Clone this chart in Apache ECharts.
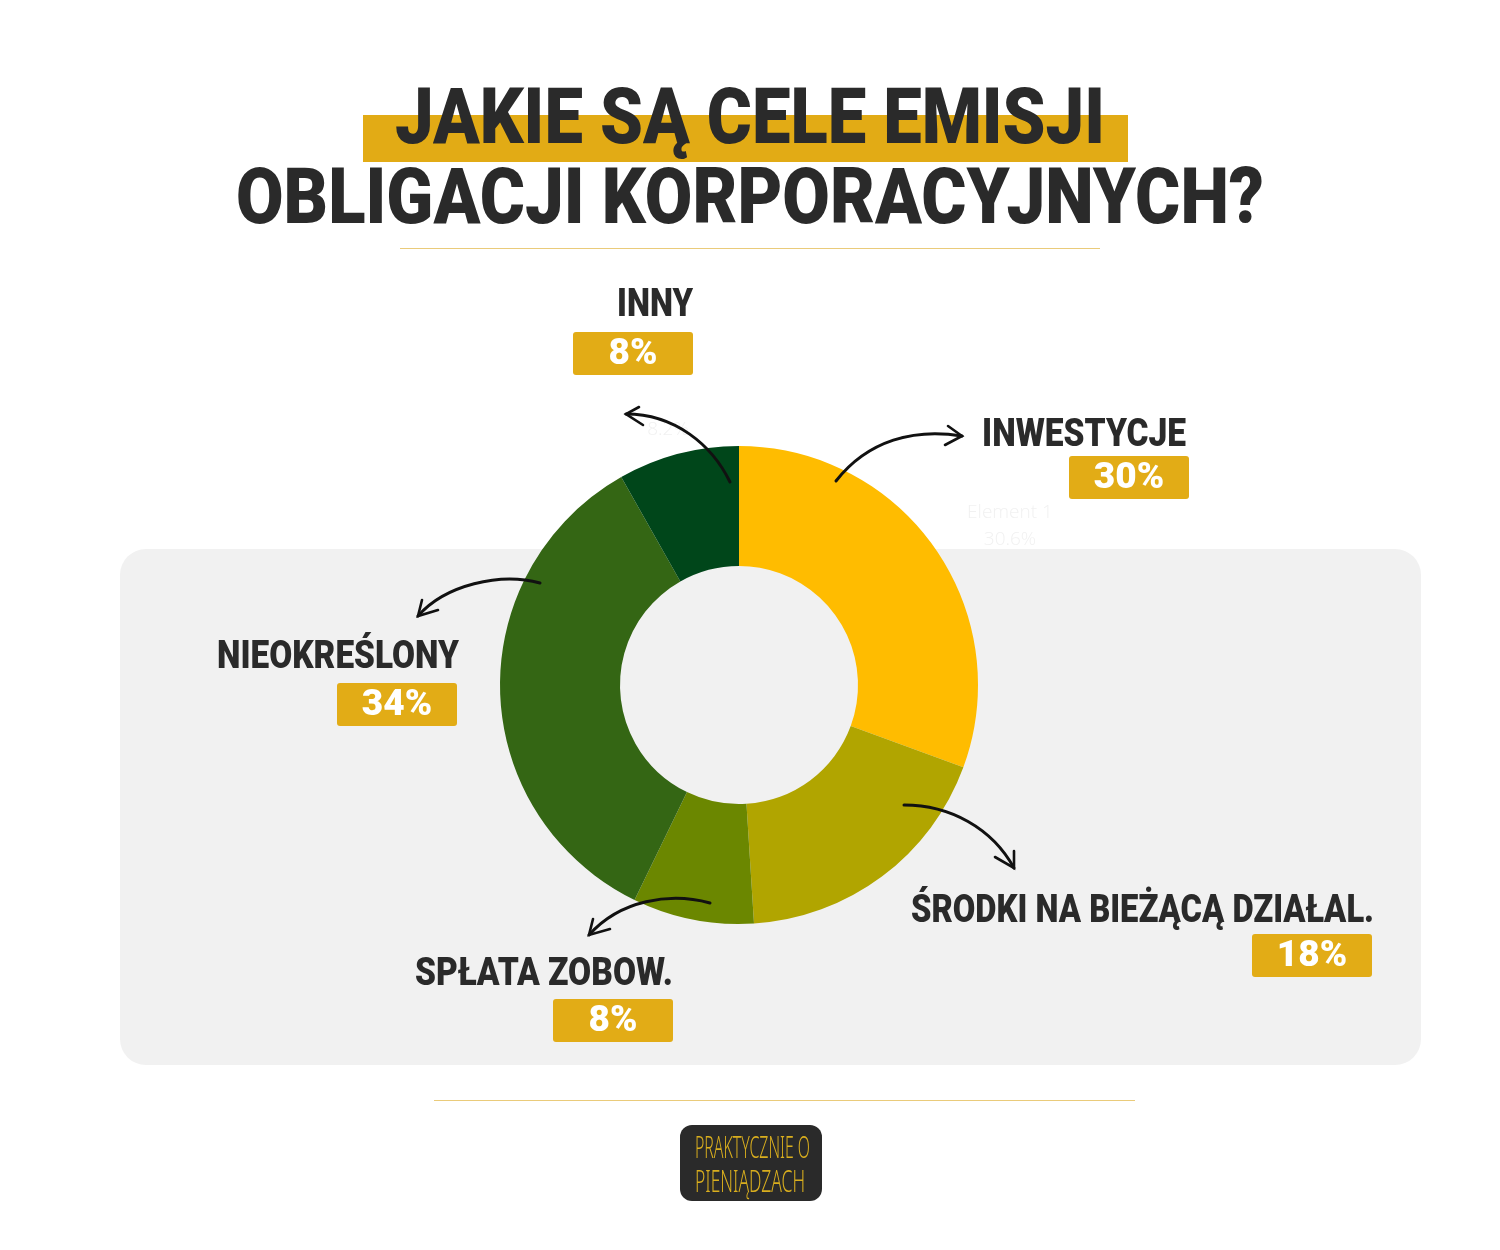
<!DOCTYPE html>
<html>
<head>
<meta charset="utf-8">
<script src="https://cdn.jsdelivr.net/npm/echarts@6/dist/echarts.min.js"></script>
<style>
html,body{margin:0;padding:0;background:#fff;}
#c{width:1500px;height:1250px;}
</style>
</head>
<body>
<div id="c"></div>
<script>
// ---- data ----
const categories = ['INWESTYCJE', 'ŚRODKI NA BIEŻĄCĄ DZIAŁAL.', 'SPŁATA ZOBOW.', 'NIEOKREŚLONY', 'INNY'];
const values = [30.6, 18.4, 8.2, 34.6, 8.2];
const shownPercent = ['30%', '18%', '8%', '34%', '8%'];
const titleLines = ['JAKIE SĄ CELE EMISJI', 'OBLIGACJI KORPORACYJNYCH?'];
const logoLines = ['PRAKTYCZNIE O', 'PIENIĄDZACH'];

// ---- layout / styles ----
const sliceColors = ['#FFBC00', '#B1A500', '#6B8700', '#346614', '#00461A'];
// [nameRightX, nameCenterY, nameWidth, boxX, boxY]
const labelLayout = [
  [1186, 436, 204, 1069, 456],
  [1374, 912, 463, 1252, 934],
  [673, 975, 258, 553, 999],
  [459, 658, 242, 337, 683],
  [693, 306, 76, 573, 332]
];
// arrows: [x1,y1,cpx1,cpy1,cpx2,cpy2,x2,y2, wing1x,wing1y, wing2x,wing2y]
const arrows = [
  [836, 481, 868, 440, 915, 428, 962, 436, 948, 426, 945, 445],
  [904, 805, 950, 805, 992, 828, 1014, 868, 995, 857, 1014, 851],
  [710, 903, 670, 892, 620, 900, 589, 935, 593, 919, 610, 929],
  [540, 583, 500, 572, 445, 585, 418, 616, 422, 600, 438, 610],
  [730, 482, 712, 445, 675, 414, 626, 414, 639, 407, 643, 425]
];

const mctx = document.createElement('canvas').getContext('2d');
function fit(text, font, width) { mctx.font = font; return width / mctx.measureText(text).width; }

const TITLE_FONT = '900 78px "Roboto", "Liberation Sans", sans-serif';
const NAME_FONT = '900 39px "Roboto", "Liberation Sans", sans-serif';
const PCT_FONT = '900 37px "Roboto", "Lato", sans-serif';
const LOGO_FONT = '300 31px "Noto Sans", "DejaVu Sans", sans-serif';

const g = [];
// grey panel
g.push({ type: 'rect', z: 0, shape: { x: 120, y: 549, width: 1301, height: 516, r: 26 }, style: { fill: '#F1F1F1' } });
// title highlight
g.push({ type: 'rect', z: 1, shape: { x: 363, y: 115, width: 765, height: 47 }, style: { fill: '#E2AB15' } });
// title text
const titleW = [710, 1028];
const titleBaseY = [123, 203];
titleLines.forEach((t, i) => {
  g.push({
    type: 'text', z: 5, x: 750, y: titleBaseY[i], scaleX: fit(t, TITLE_FONT, titleW[i]),
    style: { text: t, font: TITLE_FONT, fill: '#2A2A2A', align: 'center', verticalAlign: 'middle',
      shadowColor: 'rgba(0,0,0,0.35)', shadowBlur: 8, shadowOffsetY: 4 }
  });
});
// separator lines
g.push({ type: 'line', z: 1, shape: { x1: 400, y1: 248.5, x2: 1100, y2: 248.5 }, style: { stroke: '#EACB7A', lineWidth: 1.2 } });
g.push({ type: 'line', z: 1, shape: { x1: 434, y1: 1100.5, x2: 1135, y2: 1100.5 }, style: { stroke: '#EACB7A', lineWidth: 1.2 } });
// faint ghost labels
g.push({ type: 'text', z: 1, x: 1010, y: 513, style: { text: 'Element 1', font: '300 19px "Open Sans", sans-serif', fill: '#F1F1F1', align: 'center', verticalAlign: 'middle' } });
g.push({ type: 'text', z: 1, x: 1010, y: 540, style: { text: values[0].toFixed(1) + '%', font: '300 19px "Open Sans", sans-serif', fill: '#F1F1F1', align: 'center', verticalAlign: 'middle' } });
g.push({ type: 'text', z: 1, x: 668, y: 430, style: { text: values[4].toFixed(1) + '%', font: '300 19px "Open Sans", sans-serif', fill: '#F1F1F1', align: 'center', verticalAlign: 'middle' } });

// category labels and percent boxes
categories.forEach((name, i) => {
  const L = labelLayout[i];
  g.push({
    type: 'text', z: 6, x: L[0], y: L[1], scaleX: fit(name, NAME_FONT, L[2]),
    style: { text: name, font: NAME_FONT, fill: '#2A2A2A', align: 'right', verticalAlign: 'middle',
      shadowColor: 'rgba(0,0,0,0.3)', shadowBlur: 5, shadowOffsetY: 2 }
  });
  g.push({ type: 'rect', z: 6, shape: { x: L[3], y: L[4], width: 120, height: 43, r: 3 }, style: { fill: '#E2AC16' } });
  g.push({
    type: 'text', z: 7, x: L[3] + 60, y: L[4] + 23,
    style: { text: shownPercent[i], font: PCT_FONT, fill: '#FFFFFF', align: 'center', verticalAlign: 'middle',
      shadowColor: 'rgba(0,0,0,0.35)', shadowBlur: 5, shadowOffsetY: 2 }
  });
});

// arrows
arrows.forEach(a => {
  g.push({ type: 'bezierCurve', z: 10, shape: { x1: a[0], y1: a[1], cpx1: a[2], cpy1: a[3], cpx2: a[4], cpy2: a[5], x2: a[6], y2: a[7] },
    style: { stroke: '#111', lineWidth: 3, lineCap: 'round', fill: null } });
  g.push({ type: 'polyline', z: 10, shape: { points: [[a[8], a[9]], [a[6], a[7]], [a[10], a[11]]] },
    style: { stroke: '#111', lineWidth: 2.6, lineCap: 'round', lineJoin: 'miter', fill: null } });
});

// logo
g.push({ type: 'rect', z: 1, shape: { x: 680, y: 1125, width: 142, height: 76, r: 12 }, style: { fill: '#2A2A2A' } });
const logoY = [1149, 1183];
const logoW = [115, 110];
logoLines.forEach((t, i) => {
  g.push({ type: 'text', z: 2, x: 695, y: logoY[i], scaleX: fit(t, LOGO_FONT, logoW[i]),
    style: { text: t, font: LOGO_FONT, fill: '#D9AE1E', align: 'left', verticalAlign: 'middle' } });
});

const chart = echarts.init(document.getElementById('c'), null, { renderer: 'canvas' });
chart.setOption({
  backgroundColor: '#FFFFFF',
  animation: false,
  graphic: { elements: g },
  series: [{
    type: 'pie',
    z: 3,
    center: [739, 685],
    radius: [119, 239],
    startAngle: 90,
    clockwise: true,
    silent: true,
    label: { show: false },
    labelLine: { show: false },
    itemStyle: { borderWidth: 0 },
    data: categories.map((n, i) => ({ name: n, value: values[i], itemStyle: { color: sliceColors[i] } }))
  }]
});
</script>
</body>
</html>
